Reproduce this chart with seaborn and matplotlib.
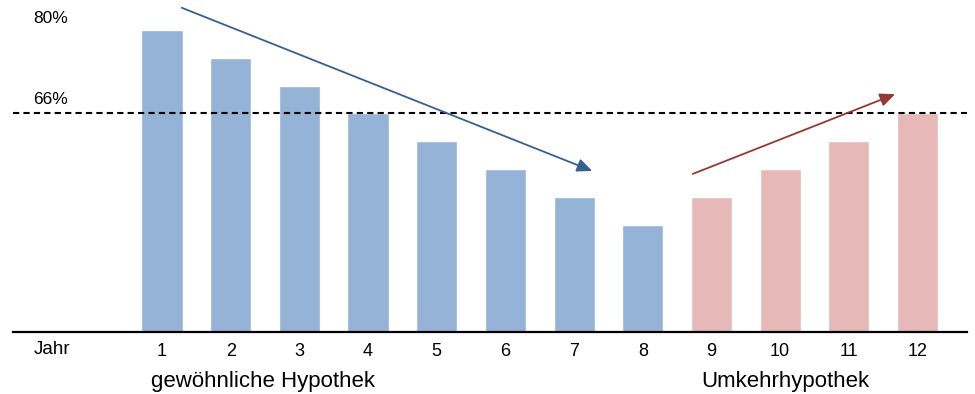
import pandas as pd
import matplotlib
matplotlib.use("Agg")
import matplotlib.pyplot as plt
import seaborn as sns

# data
years = [1, 2, 3, 4, 5, 6, 7, 8, 9, 10, 11, 12]
values = [80, 75.33, 70.67, 66, 61.33, 56.67, 52, 47.33, 52, 56.67, 61.33, 66]
groups = ["gewöhnliche Hypothek"] * 8 + ["Umkehrhypothek"] * 4
threshold = 66

df = pd.DataFrame({"Jahr": years, "Wert": values, "Art": groups})

sns.set_style("white")
plt.rcParams['font.family'] = ['Liberation Sans', 'DejaVu Sans']
plt.rcParams['text.color'] = 'black'
plt.rcParams['xtick.color'] = 'black'

fig = plt.figure(figsize=(9.75, 3.94), dpi=100)
ax = fig.add_axes([13 / 975, 62 / 394, 954 / 975, 332 / 394])

sns.barplot(data=df, x="Jahr", y="Wert", hue="Art",
            palette={"gewöhnliche Hypothek": "#95b3d7", "Umkehrhypothek": "#e6b9b8"},
            dodge=False, width=0.6, legend=False, saturation=1, ax=ax)

ax.set_xlim(-2.17, 11.72)
ax.set_ylim(29.36, 85.03)

# 66% line
ax.axhline(threshold, color="black", linestyle=(0, (3, 2)), linewidth=1.5)

# trend arrows
ax.annotate("", xy=(6.30, 56.2), xytext=(0.25, 83.9),
            arrowprops=dict(arrowstyle="-|>,head_length=0.9,head_width=0.4",
                            color="#366092", lw=1.3))
ax.annotate("", xy=(10.71, 69.4), xytext=(7.69, 55.7),
            arrowprops=dict(arrowstyle="-|>,head_length=0.9,head_width=0.4",
                            color="#953735", lw=1.3))

# percent labels
ax.text(-1.87, 82.0, "80%", fontsize=12.5, va="center", ha="left")
ax.text(-1.87, 68.3, "66%", fontsize=12.5, va="center", ha="left")

# axis styling
sns.despine(ax=ax, left=True, top=True, right=True)
ax.spines["bottom"].set_color("black")
ax.spines["bottom"].set_linewidth(1.6)
ax.set_yticks([])
ax.tick_params(axis="x", length=0, pad=8, labelsize=13)
ax.set_xlabel("")
ax.set_ylabel("")

ax.text(-1.6, 26.5, "Jahr", fontsize=13.5, ha="center", va="center", clip_on=False)
ax.text(1.47, 21.1, "gewöhnliche Hypothek", fontsize=16, ha="center", va="center", clip_on=False)
ax.text(9.07, 21.1, "Umkehrhypothek", fontsize=16, ha="center", va="center", clip_on=False)

fig.savefig("out.png", dpi=100)
